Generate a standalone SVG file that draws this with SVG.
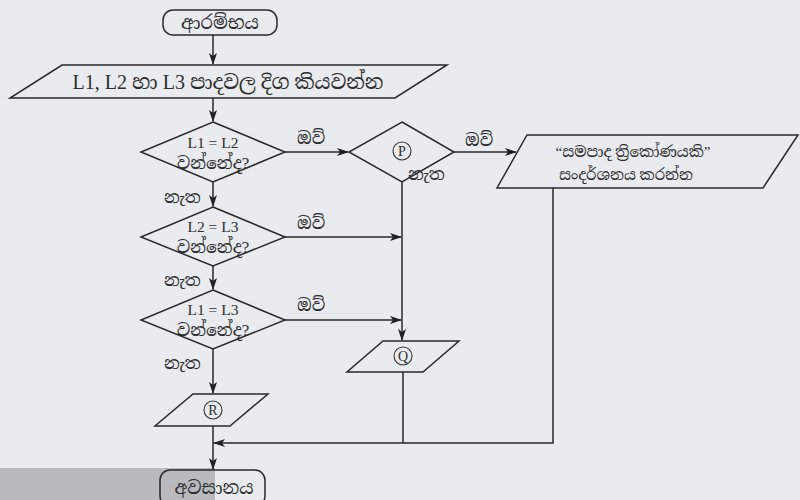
<svg xmlns="http://www.w3.org/2000/svg" width="800" height="500" viewBox="0 0 800 500">
<defs>
<marker id="ah" viewBox="0 0 12 8" markerWidth="12" markerHeight="8" refX="11" refY="4" orient="auto" markerUnits="userSpaceOnUse">
<path d="M0,0 L12,4 L0,8 L3,4 z" fill="#222"/>
</marker>
</defs>
<style>
.sh{fill:none;stroke:#2a2a2a;stroke-width:1.5;stroke-linejoin:miter}
.ln{fill:none;stroke:#2a2a2a;stroke-width:1.5}
.ar{marker-end:url(#ah)}
.t{font-family:"Liberation Serif","Noto Serif Sinhala","Noto Sans Sinhala",serif;fill:#2e2e2e;text-anchor:middle}
.lb{font-family:"Liberation Serif","Noto Serif Sinhala","Noto Sans Sinhala",serif;fill:#2e2e2e;font-size:17px}
.c{fill:none;stroke:#333;stroke-width:1.1}
</style>
<rect width="800" height="500" fill="#e9ebef"/>
<rect x="0" y="468" width="215" height="32" fill="#b9babe"/>

<g id="start">
<rect class="sh" x="163" y="10" width="114" height="25" rx="10"/>
<text class="t" x="220" y="29" font-size="18">ආරම්භය</text>
</g>
<g id="input">
<polygon class="sh" points="62,65 447,65 395,98 10,98"/>
<text class="t" x="228" y="89" font-size="20">L1, L2 හා L3 පාදවල දිග කියවන්න</text>
</g>
<g id="d1">
<polygon class="sh" points="213,122 285,152 213,182 141,152"/>
<text class="t" x="213" y="148" font-size="15.5">L1 = L2</text>
<text class="t" x="213" y="169" font-size="17">වන්නේද?</text>
</g>
<g id="d2">
<polygon class="sh" points="213,207 285,237 213,266 141,237"/>
<text class="t" x="213" y="232" font-size="15.5">L2 = L3</text>
<text class="t" x="213" y="253" font-size="17">වන්නේද?</text>
</g>
<g id="d3">
<polygon class="sh" points="213,290 285,320 213,349 141,320"/>
<text class="t" x="213" y="315" font-size="15.5">L1 = L3</text>
<text class="t" x="213" y="336" font-size="17">වන්නේද?</text>
</g>
<g id="p">
<polygon class="sh" points="402,122 454,152 402,182 349,152"/>
<circle class="c" cx="402" cy="151" r="9"/>
<text class="t" x="402" y="156" font-size="14">P</text>
</g>
<g id="out">
<polygon class="sh" points="527,135 798,135 763,188 497,188"/>
<text class="t" x="633" y="157" font-size="15">“සමපාද ත්‍රිකෝණයකි”</text>
<text class="t" x="626" y="180" font-size="15">සංදර්ශනය කරන්න</text>
</g>
<g id="q">
<polygon class="sh" points="383,341 459,341 423,372 347,372"/>
<circle class="c" cx="403" cy="356" r="9"/>
<text class="t" x="403" y="361" font-size="14">Q</text>
</g>
<g id="r">
<polygon class="sh" points="193,394 268,394 230,426 155,426"/>
<circle class="c" cx="213" cy="410" r="9"/>
<text class="t" x="213" y="415" font-size="14">R</text>
</g>
<g id="end">
<rect class="sh" x="160" y="470" width="105" height="36" rx="10"/>
<text class="t" x="214" y="494" font-size="18">අවසානය</text>
</g>

<g id="connectors">
<line class="ln ar" x1="213" y1="35" x2="213" y2="64"/>
<line class="ln ar" x1="213" y1="98" x2="213" y2="121"/>
<line class="ln ar" x1="213" y1="182" x2="213" y2="206"/>
<line class="ln ar" x1="213" y1="266" x2="213" y2="289"/>
<line class="ln ar" x1="213" y1="349" x2="213" y2="393"/>
<line class="ln ar" x1="213" y1="426" x2="213" y2="469"/>
<line class="ln ar" x1="285" y1="152" x2="348" y2="152"/>
<line class="ln ar" x1="454" y1="152" x2="516" y2="152"/>
<line class="ln ar" x1="285" y1="237" x2="401" y2="237"/>
<line class="ln ar" x1="285" y1="320" x2="401" y2="320"/>
<line class="ln ar" x1="402" y1="182" x2="402" y2="340"/>
<line class="ln" x1="403" y1="372" x2="403" y2="443"/>
<polyline class="ln ar" points="553,188 553,443 214,443"/>
</g>
<g id="labels">
<text class="lb" x="297" y="144">ඔව්</text>
<text class="lb" x="465" y="146">ඔව්</text>
<text class="lb" x="297" y="229">ඔව්</text>
<text class="lb" x="297" y="311">ඔව්</text>
<text class="lb" x="164" y="203">නැත</text>
<text class="lb" x="164" y="286">නැත</text>
<text class="lb" x="164" y="369">නැත</text>
<text class="lb" x="408" y="180">නැත</text>
</g>
</svg>
